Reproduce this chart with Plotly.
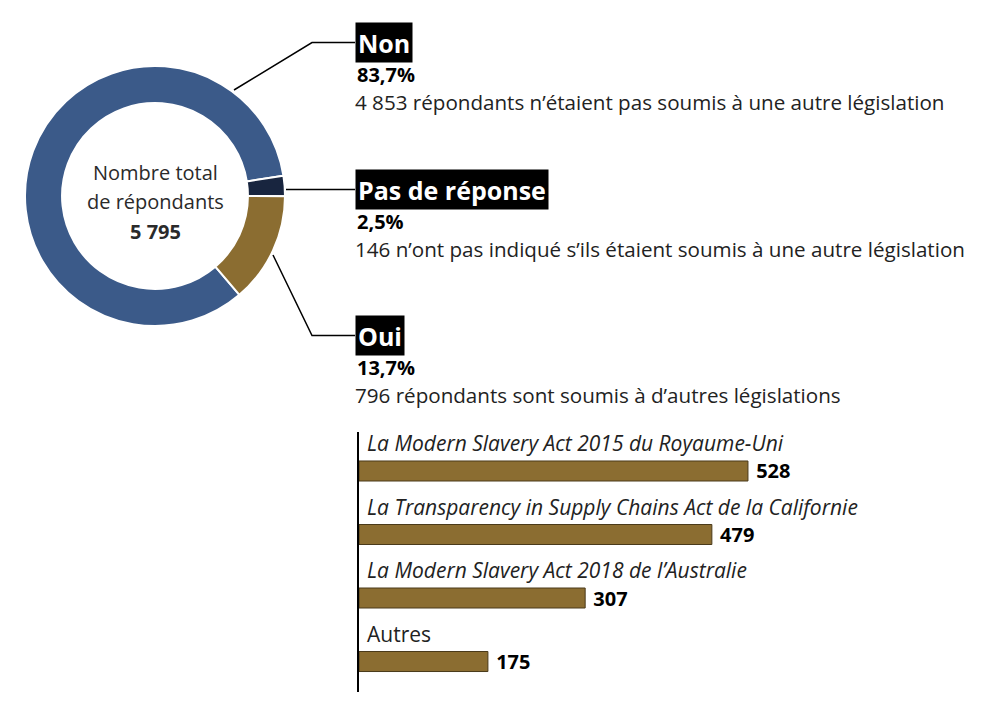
import plotly.graph_objects as go

W, H = 987, 711
FONT = "Open Sans"

# ---- data ----
pie_labels = ["Non", "Pas de réponse", "Oui"]
pie_values = [4853, 146, 796]
pie_pcts = ["83,7%", "2,5%", "13,7%"]
pie_desc = [
    "4 853 répondants n’étaient pas soumis à une autre législation",
    "146 n’ont pas indiqué s’ils étaient soumis à une autre législation",
    "796 répondants sont soumis à d’autres législations",
]
pie_colors = ["#3b5a89", "#18253f", "#8b6d31"]
center_lines = ["Nombre total", "de répondants", "<b>5 795</b>"]

bar_cats = [
    "<i>La Modern Slavery Act 2015 du Royaume-Uni</i>",
    "<i>La Transparency in Supply Chains Act de la Californie</i>",
    "<i>La Modern Slavery Act 2018 de l’Australie</i>",
    "Autres",
]
bar_values = [528, 479, 307, 175]
bar_color = "#8b6d31"


def px(x):
    return x / W


def py(y):
    return 1 - y / H


total = sum(pie_values)
# Pas de réponse slice starts ~9 deg above 3 o'clock (clockwise angle 81)
rot = 81 - 360 * pie_values[0] / total
rot = ((rot + 180) % 360) - 180

fig = go.Figure()

fig.add_trace(go.Pie(
    labels=pie_labels,
    values=pie_values,
    sort=False,
    direction="clockwise",
    rotation=rot,
    hole=0.715,
    marker=dict(colors=pie_colors, line=dict(color="white", width=2)),
    textinfo="none",
    hoverinfo="skip",
    showlegend=False,
    domain=dict(x=[px(25), px(285)], y=[py(326), py(66)]),
))

fig.add_trace(go.Bar(
    y=list(range(len(bar_cats))),
    x=bar_values,
    orientation="h",
    width=0.315,
    marker=dict(color=bar_color, line=dict(color="#4a3a1a", width=1)),
    text=[f" <b>{v}</b>" for v in bar_values],
    textposition="outside",
    constraintext="none",
    textfont=dict(family=FONT, size=20, color="black"),
    cliponaxis=False,
    hoverinfo="skip",
    showlegend=False,
))

annotations = []
# centre text
for txt, cy in zip(center_lines, [172, 201, 231]):
    annotations.append(dict(
        x=px(155), y=py(cy), xref="paper", yref="paper",
        xanchor="center", yanchor="middle",
        text=txt, showarrow=False,
        font=dict(family=FONT, size=20, color="#2a2a2a"),
    ))

label_box_y = [42.5, 189.5, 335.5]
for lab, pct, desc, by in zip(pie_labels, pie_pcts, pie_desc, label_box_y):
    annotations.append(dict(
        x=px(355), y=py(by), xref="paper", yref="paper",
        xanchor="left", yanchor="middle",
        text="<b>" + lab + "</b>", showarrow=False,
        font=dict(family=FONT, size=25, color="white"),
        bgcolor="black", borderpad=2, height=35,
    ))
    annotations.append(dict(
        x=px(355), y=py(by + 32), xref="paper", yref="paper",
        xanchor="left", yanchor="middle",
        text="<b>" + pct + "</b>", showarrow=False,
        font=dict(family=FONT, size=20, color="black"),
    ))
    annotations.append(dict(
        x=px(353), y=py(by + 59), xref="paper", yref="paper",
        xanchor="left", yanchor="middle",
        text=desc, showarrow=False,
        font=dict(family=FONT, size=20.6, color="#222"),
    ))

for i, c in enumerate(bar_cats):
    annotations.append(dict(
        x=0, y=i, xref="x", yref="y",
        xanchor="left", yanchor="middle", xshift=6, yshift=28,
        text=c, showarrow=False,
        font=dict(family=FONT, size=21, color="#222"),
    ))

line = dict(color="black", width=1.5)
shapes = [
    dict(type="path", xref="paper", yref="paper",
         path=f"M {px(234)},{py(90)} L {px(312)},{py(42.5)} L {px(355)},{py(42.5)}",
         line=line),
    dict(type="path", xref="paper", yref="paper",
         path=f"M {px(286)},{py(189.5)} L {px(355)},{py(189.5)}",
         line=line),
    dict(type="path", xref="paper", yref="paper",
         path=f"M {px(273)},{py(255)} L {px(312)},{py(335.5)} L {px(355)},{py(335.5)}",
         line=line),
]

fig.update_layout(
    width=W, height=H,
    margin=dict(l=0, r=0, t=0, b=0),
    paper_bgcolor="white", plot_bgcolor="white",
    font=dict(family=FONT),
    annotations=annotations,
    shapes=shapes,
    xaxis=dict(domain=[px(359), px(801)], range=[0, 600], visible=False),
    yaxis=dict(domain=[py(692), py(432)], range=[3.48, -0.614],
               showline=True, linecolor="black", linewidth=1.5,
               showticklabels=False, ticks="", showgrid=False, zeroline=False),
)

fig.write_html("out.html", config={"displayModeBar": False},
               post_script="document.body.style.margin='0';")
